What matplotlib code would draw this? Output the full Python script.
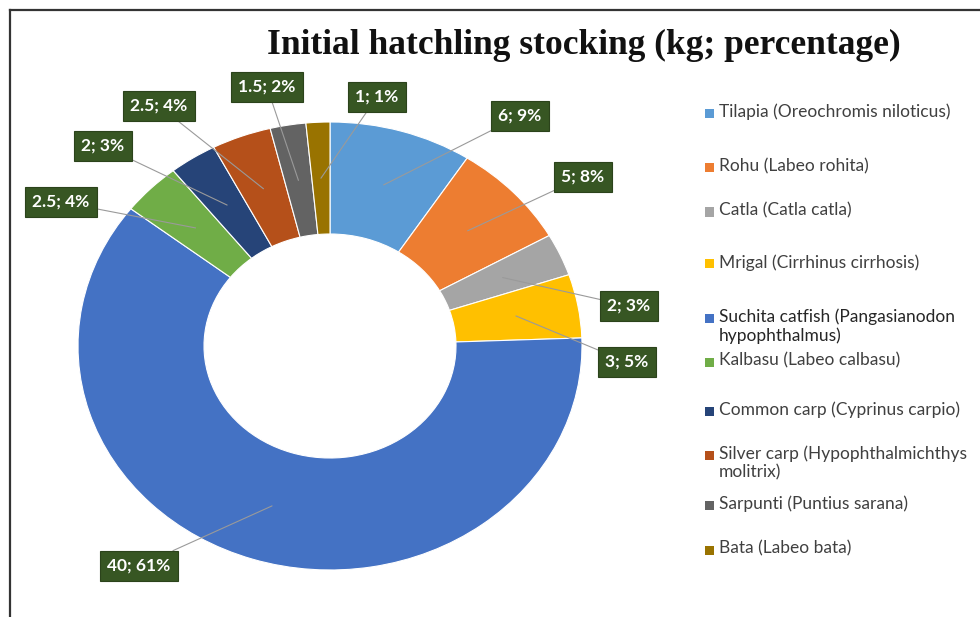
import matplotlib
matplotlib.use("Agg")
import matplotlib.pyplot as plt
import numpy as np
from matplotlib.lines import Line2D
from matplotlib.patches import Rectangle

# ---------------- data ----------------
species = [
    "Tilapia (Oreochromis niloticus)",
    "Rohu (Labeo rohita)",
    "Catla (Catla catla)",
    "Mrigal (Cirrhinus cirrhosis)",
    "Suchita catfish (Pangasianodon\nhypophthalmus)",
    "Kalbasu (Labeo calbasu)",
    "Common carp (Cyprinus carpio)",
    "Silver carp (Hypophthalmichthys\nmolitrix)",
    "Sarpunti (Puntius sarana)",
    "Bata (Labeo bata)",
]
kg = [6, 5, 2, 3, 40, 2.5, 2, 2.5, 1.5, 1]
pct = [9, 8, 3, 5, 61, 4, 3, 4, 2, 1]
title = "Initial hatchling stocking (kg; percentage)"

# ---------------- style ----------------
colors = ["#5B9BD5", "#ED7D31", "#A5A5A5", "#FFC000", "#4472C4",
          "#70AD47", "#264478", "#B5501A", "#636363", "#997300"]

W, H = 980, 617
fig = plt.figure(figsize=(W / 100, H / 100), dpi=100)

# donut geometry in pixels (elliptical, as in reference)
cx, cy, rx, ry = 330, 346, 252, 224
ax_w, ax_h = 2.5 * rx, 2.5 * ry
ax = fig.add_axes([(cx - ax_w / 2) / W, ((H - cy) - ax_h / 2) / H, ax_w / W, ax_h / H])

wedges, _ = ax.pie(kg, colors=colors, startangle=90, counterclock=False,
                   radius=1.0, wedgeprops=dict(width=0.5, edgecolor="white", linewidth=0.8))
ax.set_aspect("auto")
ax.set_xlim(-1.25, 1.25)
ax.set_ylim(-1.25, 1.25)
ax.axis("off")

# label positions in pixel coords (layout)
label_px = [(520, 116), (583, 177), (629, 306), (627, 362), (139, 566),
            (61, 202), (103, 146), (159, 106), (267, 87), (377, 97)]

def fmt(v):
    return ("%g" % v)

for w, v, p, (px, py) in zip(wedges, kg, pct, label_px):
    ang = np.deg2rad((w.theta1 + w.theta2) / 2)
    xy = (0.75 * np.cos(ang), 0.75 * np.sin(ang))
    tx = (px - cx) / rx
    ty = (cy - py) / ry
    ax.annotate(f"{fmt(v)}; {p}%", xy=xy, xytext=(tx, ty),
                ha="center", va="center", fontsize=12.5, fontweight="bold",
                family="Lato", color="white", annotation_clip=False,
                bbox=dict(boxstyle="square,pad=0.4", fc="#375623", ec="#2b431b", lw=0.8),
                arrowprops=dict(arrowstyle="-", color="#9a9a9a", lw=0.8,
                                shrinkA=0, shrinkB=0))

# title
fig.text(584 / W, 1 - 45 / H, title, ha="center", va="center",
         family="Liberation Serif", fontweight="bold", fontsize=25.5, color="#111111")

# legend (manual)
leg_y = [113, 168, 212, 264, 318, 362, 411, 455, 505, 550]
for i, (c, name, y) in enumerate(zip(colors, species, leg_y)):
    fig.add_artist(Rectangle((705 / W, 1 - (y + 4.5) / H), 9 / W, 9 / H,
                             transform=fig.transFigure, fc=c, ec="none"))
    fig.text(719 / W, 1 - (y - 10) / H, name, ha="left", va="top",
             family="Lato", fontsize=12.5,
             color="#262626" if i == 4 else "#404040", linespacing=1.2)

# frame lines (left and top)
fig.add_artist(Line2D([10 / W, 10 / W], [0, 1 - 10 / H], color="#333333", lw=1.6,
                      transform=fig.transFigure))
fig.add_artist(Line2D([10 / W, 1], [1 - 10 / H, 1 - 10 / H], color="#333333", lw=1.6,
                      transform=fig.transFigure))

fig.savefig("out.png", dpi=100)
